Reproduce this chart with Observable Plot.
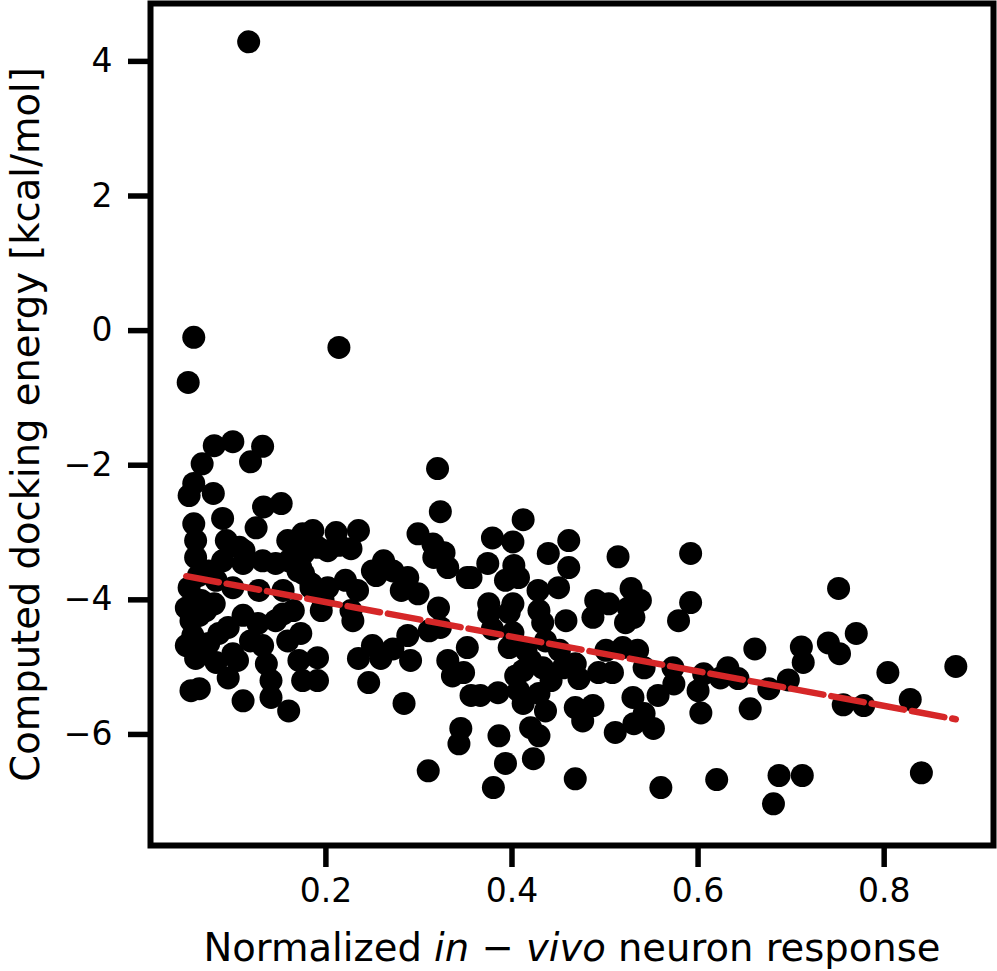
<!DOCTYPE html>
<html><head><meta charset="utf-8">
<script src="https://cdn.jsdelivr.net/npm/d3@7"></script>
<script src="https://cdn.jsdelivr.net/npm/@observablehq/plot@0.6"></script>
<style>html,body{margin:0;padding:0;background:#fff} svg{display:block}</style>
</head><body><div id="chart"></div>
<script>
// Normalized in-vivo neuron response (x) and computed docking energy (y)
const response = [
0.117,0.058,0.052,0.214,0.080,0.100,0.132,0.119,0.067,0.058,0.053,0.079,0.133,0.152,0.125,0.089,0.058,0.159,0.175,0.060,
0.060,0.093,0.107,0.089,0.111,0.132,0.146,0.160,0.170,0.053,0.074,0.050,0.071,0.100,0.128,0.154,0.165,0.112,0.173,0.191,
0.202,0.080,0.095,0.111,0.127,0.105,0.095,0.111,0.136,0.141,0.141,0.160,0.159,0.171,0.175,0.191,0.191,0.197,0.184,0.055,
0.057,0.060,0.055,0.064,0.154,0.074,0.100,0.085,0.146,0.066,0.082,0.063,0.069,0.082,0.050,0.119,0.132,0.186,0.176,0.176,
0.184,0.202,0.195,0.173,0.064,
0.211,0.235,0.214,0.227,0.262,0.250,0.272,0.254,0.299,0.315,0.327,0.331,0.316,0.352,0.288,0.281,0.299,0.221,0.234,0.321,
0.227,0.320,0.323,0.229,0.235,0.250,0.259,0.246,0.272,0.288,0.291,0.284,0.331,0.336,0.348,0.352,0.323,0.311,0.345,0.343,
0.310,0.356,
0.412,0.379,0.401,0.461,0.439,0.461,0.514,0.374,0.402,0.356,0.393,0.407,0.428,0.450,0.375,0.401,0.490,0.504,0.528,0.525,
0.429,0.458,0.375,0.487,0.379,0.401,0.397,0.433,0.522,0.501,0.519,0.397,0.415,0.412,0.433,0.455,0.468,0.472,0.493,0.508,
0.407,0.429,0.412,0.436,0.468,0.487,0.476,0.366,0.385,0.420,0.429,0.386,0.393,0.423,0.380,0.468,0.511,0.530,0.531,0.420,
0.442,0.451,0.404,0.436,
0.592,0.751,0.592,0.579,0.538,0.531,0.770,0.740,0.752,0.711,0.713,0.661,0.877,0.804,0.697,0.676,0.828,0.756,0.778,0.632,
0.643,0.624,0.606,0.600,0.603,0.656,0.573,0.574,0.557,0.542,0.535,0.542,0.552,0.560,0.620,0.687,0.712,0.681,0.840
];
const energy = [
4.29,-0.10,-0.77,-0.25,-1.71,-1.65,-1.72,-1.95,-1.98,-2.27,-2.45,-2.42,-2.62,-2.57,-2.93,-2.79,-2.87,-3.12,-3.02,-3.12,
-3.37,-3.12,-3.22,-3.42,-3.46,-3.42,-3.46,-3.42,-3.57,-3.82,-3.57,-4.12,-4.16,-3.82,-3.86,-3.86,-4.16,-3.27,-3.52,-3.22,
-3.27,-4.06,-4.41,-4.23,-4.35,-4.90,-5.16,-5.50,-4.95,-5.20,-5.45,-5.65,-4.61,-4.90,-5.20,-4.86,-5.20,-4.01,-3.76,-4.31,
-4.53,-4.87,-5.35,-4.23,-4.21,-4.65,-4.80,-4.50,-4.31,-4.01,-3.71,-3.64,-4.75,-4.93,-4.68,-4.61,-4.68,-2.97,-3.31,-3.61,
-3.82,-3.82,-4.16,-4.50,-5.32,
-3.00,-2.97,-3.19,-3.24,-3.42,-3.57,-3.57,-3.64,-3.02,-3.17,-3.30,-3.52,-3.37,-3.67,-3.67,-3.86,-3.91,-3.71,-3.86,-4.12,
-4.16,-2.05,-2.69,-4.31,-4.87,-4.68,-4.87,-5.23,-4.73,-4.53,-4.90,-5.54,-4.90,-5.13,-5.08,-4.71,-4.41,-4.46,-5.91,-6.14,
-6.54,-5.42,
-2.81,-3.08,-3.14,-3.12,-3.31,-3.52,-3.36,-3.46,-3.49,-3.67,-3.71,-3.67,-3.86,-3.82,-4.06,-4.06,-4.01,-4.06,-3.83,-4.12,
-4.16,-4.31,-4.21,-4.26,-4.43,-4.49,-4.19,-4.34,-4.34,-4.75,-4.71,-4.71,-4.75,-5.05,-5.01,-5.01,-4.95,-5.17,-5.08,-5.08,
-5.35,-5.39,-5.54,-5.65,-5.60,-5.57,-5.80,-5.42,-5.38,-5.90,-6.02,-6.02,-6.43,-6.36,-6.79,-6.66,-5.97,-5.45,-5.84,-4.90,
-5.20,-4.75,-5.13,-4.61,
-3.31,-3.83,-4.04,-4.31,-4.01,-4.26,-4.50,-4.64,-4.80,-4.70,-4.93,-4.73,-4.99,-5.08,-5.19,-5.32,-5.48,-5.56,-5.57,-5.01,
-5.17,-5.16,-5.10,-5.35,-5.68,-5.62,-5.01,-5.25,-5.42,-5.01,-4.75,-5.69,-5.91,-6.79,-6.67,-6.61,-6.61,-7.03,-6.57
];
// Least-squares fit line
const fitSlope = -2.57;
const fitIntercept = -3.52;
const xTicks = [0.2, 0.4, 0.6, 0.8];
const yTicks = [-6, -4, -2, 0, 2, 4];
const xLabel = "Normalized in − vivo neuron response";
const yLabel = "Computed docking energy [kcal/mol]";

const points = response.map((x, i) => ({x, y: energy[i]}));
const [x0, x1] = d3.extent(response);
const fit = [x0, x1].map(x => ({x, y: fitIntercept + fitSlope * x}));

const chart = Plot.plot({
  width: 997, height: 971,
  marginLeft: 150, marginRight: 4, marginTop: 3, marginBottom: 126,
  style: {fontFamily: "DejaVu Sans", fontSize: "33px", color: "#000", background: "#fff"},
  x: {domain: [0.0115, 0.9175]},
  y: {domain: [-7.65, 4.86]},
  marks: [
    Plot.dot(points, {x: "x", y: "y", r: 11.5, fill: "#000"}),
    Plot.line(fit, {x: "x", y: "y", stroke: "#d62728", strokeWidth: 6.5, strokeDasharray: "33,8"}),
    Plot.frame({stroke: "#000", strokeWidth: 6}),
    Plot.axisX({ticks: xTicks, tickSize: 22, tickPadding: 11, strokeWidth: 5.5, tickFormat: d3.format(".1f"), label: null, fontSize: 33}),
    Plot.axisY({ticks: yTicks, tickSize: 22, tickPadding: 16, strokeWidth: 5.5, tickFormat: d => d < 0 ? "\u2212" + (-d) : String(d), label: null, fontSize: 33}),
    Plot.text([xLabel], {frameAnchor: "bottom", dy: 115, lineAnchor: "bottom", textAnchor: "middle", fontSize: 38.5, text: d => d}),
    Plot.text([yLabel], {frameAnchor: "left", dx: -112, rotate: -90, lineAnchor: "bottom", textAnchor: "middle", fontSize: 38.5, text: d => d})
  ]
});
document.getElementById("chart").appendChild(chart);

// italicize "in" and "vivo" in the x label
d3.select(chart).selectAll("text").filter(function() { return this.textContent === xLabel; }).each(function() {
  const t = d3.select(this);
  t.text(null);
  [["Normalized ", false], ["in", true], [" − ", false], ["vivo", true], [" neuron response", false]].forEach(([s, it]) => {
    const ts = t.append("tspan").text(s);
    if (it) ts.attr("font-style", "italic");
  });
});
</script>
</body></html>
